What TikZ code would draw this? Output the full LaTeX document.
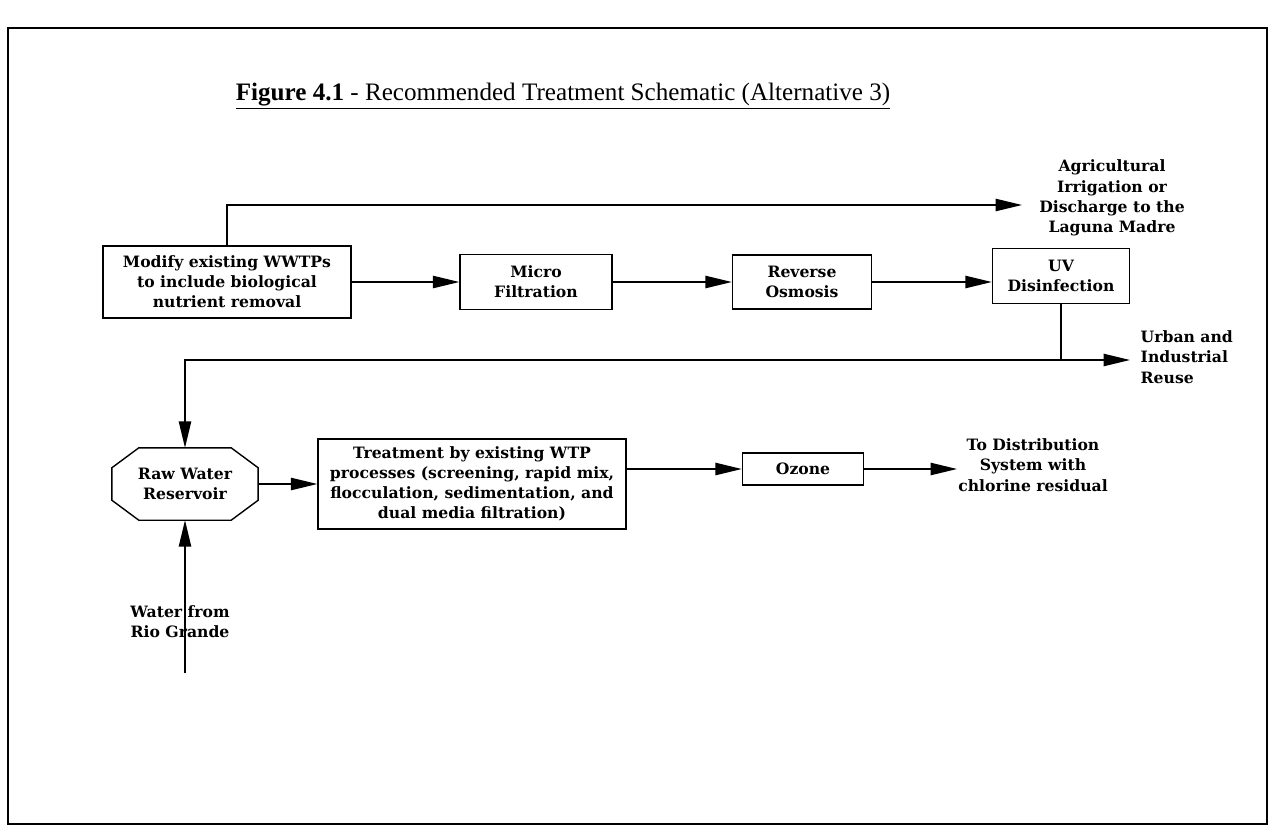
\documentclass[tikz,border=0pt]{standalone}
\usepackage{fontspec}
\setmainfont{DejaVu Serif}
\newfontfamily\titlefont{Liberation Serif}
\usepackage{tikz}
\usetikzlibrary{arrows.meta}
\tikzset{
  proc node/.style={rectangle,draw,align=center,inner sep=2pt,font=\bfseries\fontsize{8.9}{11.3}\selectfont},
  tank node/.style={rectangle,align=center,inner sep=2pt,font=\bfseries\fontsize{8.9}{11.3}\selectfont},
  end node/.style={align=center,inner sep=0pt,font=\bfseries\fontsize{8.9}{11.5}\selectfont}
}

\begin{document}
\begin{tikzpicture}[x=0.02cm,y=-0.02cm,line width=0.8pt,
        >={Triangle[length=15pt,width=7pt]}]
  \useasboundingbox (0,0) rectangle (1277,832);
  \draw[line width=1.4pt] (8,28) rectangle (1267,824);

  \node[font=\titlefont\fontsize{14.3}{16}\selectfont] (title) at (563,96)
    {\underline{\textbf{Figure 4.1} - Recommended Treatment Schematic (Alternative 3)}};

  % reuse train
  \node[proc node,minimum width=4.96cm,minimum height=1.44cm] (modify) at (227,282)
    {Modify existing WWTPs\\to include biological\\nutrient removal};
  \node[proc node,minimum width=3.04cm,minimum height=1.1cm] (micro) at (536,282) {Micro\\Filtration};
  \node[proc node,minimum width=2.78cm,minimum height=1.08cm] (ro) at (802,282) {Reverse\\Osmosis};
  \node[proc node,minimum width=2.74cm,minimum height=1.1cm] (uv) at (1061,276) {UV\\Disinfection};
  \node[end node] (agri) at (1112,198) {Agricultural\\Irrigation or\\Discharge to the\\Laguna Madre};
  \node[end node,align=left,anchor=west] (urban) at (1140,357) {Urban and\\Industrial\\Reuse};

  % water treatment train
  \node[tank node,minimum width=2.9cm,minimum height=1.42cm] (raw) at (185,484) {Raw Water\\Reservoir};
  \draw ([xshift=0.54cm]raw.north west) -- ([xshift=-0.54cm]raw.north east)
    -- ([yshift=-0.4cm]raw.north east) -- ([yshift=0.4cm]raw.south east)
    -- ([xshift=-0.54cm]raw.south east) -- ([xshift=0.54cm]raw.south west)
    -- ([yshift=0.4cm]raw.south west) -- ([yshift=-0.4cm]raw.north west) -- cycle;
  \node[proc node,minimum width=6.16cm,minimum height=1.8cm] (treat) at (472,484)
    {Treatment by existing WTP\\processes (screening, rapid mix,\\flocculation, sedimentation, and\\dual media filtration)};
  \node[proc node,minimum width=2.42cm,minimum height=0.64cm] (ozone) at (803,469) {Ozone};
  \node[end node] (dist) at (1033,465) {To Distribution\\System with\\chlorine residual};
  \node[end node] (rio) at (180,622) {Water from\\Rio Grande};

  \coordinate (agriin) at (1022,205);
  \coordinate (urbanin) at (1130,360);
  \coordinate (distin) at (957,469);
  \coordinate (riosrc) at (185,673);

  \draw[->] (modify) -- (micro);
  \draw[->] (micro) -- (ro);
  \draw[->] (ro.east) -- (uv.west |- ro.east);
  \draw[->] (modify.north) |- (agriin);
  \draw[->] (uv.south) |- (urbanin);
  \draw[->] (uv.south |- urbanin) -| (raw.north);
  \draw[->] (raw) -- (treat);
  \draw[->] (treat.east |- ozone) -- (ozone.west);
  \draw[->] (ozone) -- (distin);
  \draw[->] (riosrc) -- (raw.south);
\end{tikzpicture}
\end{document}
